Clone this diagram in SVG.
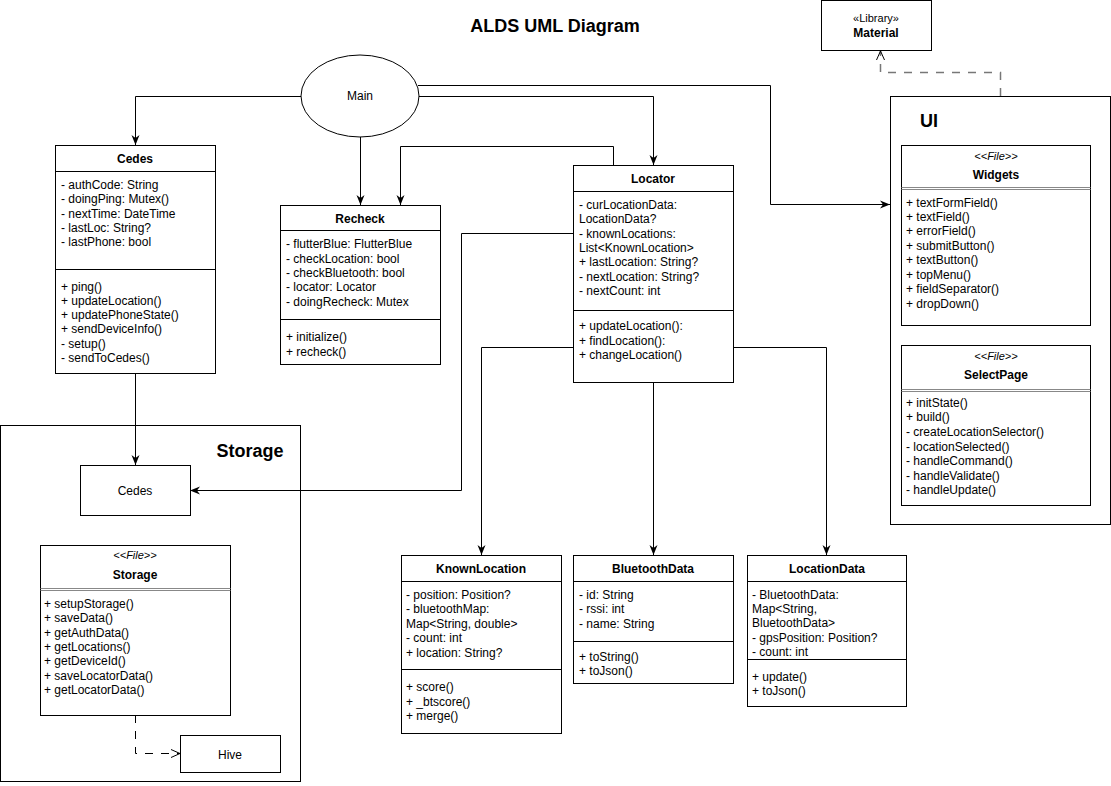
<svg xmlns="http://www.w3.org/2000/svg" width="1111" height="786" viewBox="0 0 1111 786">
<style>
text{font-family:"Liberation Sans",Arial,sans-serif;font-size:12px;fill:#000}
.b{font-weight:bold}
.c{text-anchor:middle}
.i{font-style:italic}
.big{font-size:18px;font-weight:bold}
.box{fill:#fff;stroke:#000;stroke-width:1}
.ln{fill:none;stroke:#000;stroke-width:1}
.dbl{fill:none;stroke:#888;stroke-width:1}
.edge{fill:none;stroke:#000;stroke-width:1}
.dash{fill:none;stroke:#777;stroke-width:1.5;stroke-dasharray:8 8}
</style>
<defs>
<marker id="arr" viewBox="0 0 10 10" refX="10" refY="5" markerWidth="10" markerHeight="10" markerUnits="userSpaceOnUse" orient="auto">
<path d="M0,1 L10,5 L0,9 L3,5 Z" fill="#000"/>
</marker>
<marker id="open" viewBox="0 0 10 10" refX="10" refY="5" markerWidth="10" markerHeight="10" markerUnits="userSpaceOnUse" orient="auto">
<path d="M1,1 L10,5 L1,9" fill="none" stroke="#000" stroke-width="1"/>
</marker>
</defs>
<rect width="1111" height="786" fill="#fff"/>
<text x="555" y="32" class="big c">ALDS UML Diagram</text>

<g id="storage-pkg">
<rect x="0.5" y="425.5" width="300" height="356" class="box"/>
<text x="250" y="457" class="big c">Storage</text>
</g>
<g id="ui-pkg">
<rect x="890.5" y="96.5" width="220" height="428" class="box"/>
<text x="929" y="127" class="big c">UI</text>
</g>

<g id="connectors">
<path d="M301,96.5 H135.5 V145" class="edge" marker-end="url(#arr)"/>
<path d="M360.5,137 V205" class="edge" marker-end="url(#arr)"/>
<path d="M613.5,165 V146.5 H400.5 V205" class="edge" marker-end="url(#arr)"/>
<path d="M419,96.5 H653.5 V165" class="edge" marker-end="url(#arr)"/>
<path d="M418,85.5 H770.5 V204.5 H890" class="edge" marker-end="url(#arr)"/>
<path d="M135.5,373 V465" class="edge" marker-end="url(#arr)"/>
<path d="M573,233.5 H461.5 V490.5 H190" class="edge" marker-end="url(#arr)"/>
<path d="M573,347.5 H481.5 V555" class="edge" marker-end="url(#arr)"/>
<path d="M653.5,382 V555" class="edge" marker-end="url(#arr)"/>
<path d="M734,347.5 H826.5 V555" class="edge" marker-end="url(#arr)"/>
<path d="M1000.5,96 V72.5 H880.5 V51" class="dash" marker-end="url(#open)"/>
<path d="M135.5,715 V753.5 H180" class="dash" style="stroke:#000;stroke-width:1" marker-end="url(#open)"/>
</g>

<g id="main">
<ellipse cx="360" cy="96" rx="59" ry="41" class="box"/>
<text x="360" y="100" class="c">Main</text>
</g>

<g id="material">
<rect x="821.5" y="0.5" width="110" height="50" class="box"/>
<text x="876" y="22" class="c" style="font-size:11px">«Library»</text>
<text x="876" y="37" class="c b">Material</text>
</g>

<g id="cedes">
<rect x="55.5" y="145.5" width="160" height="228" class="box"/>
<line x1="55.5" y1="171.5" x2="215.5" y2="171.5" class="ln"/>
<line x1="55.5" y1="269.5" x2="215.5" y2="269.5" class="ln"/>
<text x="135" y="163" class="c b">Cedes</text>
<text x="61" y="189">- authCode: String</text>
<text x="61" y="203">- doingPing: Mutex()</text>
<text x="61" y="218">- nextTime: DateTime</text>
<text x="61" y="232">- lastLoc: String?</text>
<text x="61" y="246">- lastPhone: bool</text>
<text x="61" y="291">+ ping()</text>
<text x="61" y="305">+ updateLocation()</text>
<text x="61" y="319">+ updatePhoneState()</text>
<text x="61" y="333">+ sendDeviceInfo()</text>
<text x="61" y="348">- setup()</text>
<text x="61" y="362">- sendToCedes()</text>
</g>

<g id="recheck">
<rect x="280.5" y="205.5" width="160" height="159" class="box"/>
<line x1="280.5" y1="230.5" x2="440.5" y2="230.5" class="ln"/>
<line x1="280.5" y1="319.5" x2="440.5" y2="319.5" class="ln"/>
<text x="360" y="223" class="c b">Recheck</text>
<text x="286" y="248">- flutterBlue: FlutterBlue</text>
<text x="286" y="263">- checkLocation: bool</text>
<text x="286" y="277">- checkBluetooth: bool</text>
<text x="286" y="291">- locator: Locator</text>
<text x="286" y="306">- doingRecheck: Mutex</text>
<text x="286" y="341">+ initialize()</text>
<text x="286" y="356">+ recheck()</text>
</g>

<g id="locator">
<rect x="573.5" y="165.5" width="160" height="217" class="box"/>
<line x1="573.5" y1="191.5" x2="733.5" y2="191.5" class="ln"/>
<line x1="573.5" y1="310.5" x2="733.5" y2="310.5" class="ln"/>
<text x="653" y="183" class="c b">Locator</text>
<text x="579" y="209">- curLocationData:</text>
<text x="579" y="223">LocationData?</text>
<text x="579" y="238">- knownLocations:</text>
<text x="579" y="252">List&lt;KnownLocation&gt;</text>
<text x="579" y="266">+ lastLocation: String?</text>
<text x="579" y="281">- nextLocation: String?</text>
<text x="579" y="295">- nextCount: int</text>
<text x="579" y="330">+ updateLocation():</text>
<text x="579" y="345">+ findLocation():</text>
<text x="579" y="359">+ changeLocation()</text>
</g>

<g id="widgets">
<rect x="901.5" y="145.5" width="189" height="180" class="box"/>
<line x1="901.5" y1="187.5" x2="1090.5" y2="187.5" class="dbl"/>
<line x1="901.5" y1="189.5" x2="1090.5" y2="189.5" class="dbl"/>
<text x="996" y="160" class="c i" style="font-size:11px">&lt;&lt;File&gt;&gt;</text>
<text x="996" y="179" class="c b">Widgets</text>
<text x="906" y="207">+ textFormField()</text>
<text x="906" y="221">+ textField()</text>
<text x="906" y="235">+ errorField()</text>
<text x="906" y="250">+ submitButton()</text>
<text x="906" y="264">+ textButton()</text>
<text x="906" y="279">+ topMenu()</text>
<text x="906" y="293">+ fieldSeparator()</text>
<text x="906" y="308">+ dropDown()</text>
</g>

<g id="selectpage">
<rect x="901.5" y="345.5" width="189" height="160" class="box"/>
<line x1="901.5" y1="389.5" x2="1090.5" y2="389.5" class="dbl"/>
<line x1="901.5" y1="391.5" x2="1090.5" y2="391.5" class="dbl"/>
<text x="996" y="360" class="c i" style="font-size:11px">&lt;&lt;File&gt;&gt;</text>
<text x="996" y="379" class="c b">SelectPage</text>
<text x="906" y="407">+ initState()</text>
<text x="906" y="421">+ build()</text>
<text x="906" y="436">- createLocationSelector()</text>
<text x="906" y="451">- locationSelected()</text>
<text x="906" y="465">- handleCommand()</text>
<text x="906" y="480">- handleValidate()</text>
<text x="906" y="494">- handleUpdate()</text>
</g>

<g id="storage-cedes">
<rect x="80.5" y="465.5" width="110" height="50" class="box"/>
<text x="135" y="495" class="c">Cedes</text>
</g>

<g id="storage-file">
<rect x="40.5" y="545.5" width="190" height="170" class="box"/>
<line x1="40.5" y1="588.5" x2="230.5" y2="588.5" class="dbl"/>
<line x1="40.5" y1="590.5" x2="230.5" y2="590.5" class="dbl"/>
<text x="135" y="559" class="c i" style="font-size:11px">&lt;&lt;File&gt;&gt;</text>
<text x="135" y="579" class="c b">Storage</text>
<text x="44" y="608">+ setupStorage()</text>
<text x="44" y="622">+ saveData()</text>
<text x="44" y="637">+ getAuthData()</text>
<text x="44" y="651">+ getLocations()</text>
<text x="44" y="665">+ getDeviceId()</text>
<text x="44" y="680">+ saveLocatorData()</text>
<text x="44" y="694">+ getLocatorData()</text>
</g>

<g id="hive">
<rect x="180.5" y="735.5" width="100" height="37" class="box"/>
<text x="230" y="759" class="c">Hive</text>
</g>

<g id="knownlocation">
<rect x="401.5" y="555.5" width="160" height="178" class="box"/>
<line x1="401.5" y1="581.5" x2="561.5" y2="581.5" class="ln"/>
<line x1="401.5" y1="669.5" x2="561.5" y2="669.5" class="ln"/>
<text x="481" y="573" class="c b">KnownLocation</text>
<text x="406" y="599">- position: Position?</text>
<text x="406" y="613">- bluetoothMap:</text>
<text x="406" y="628">Map&lt;String, double&gt;</text>
<text x="406" y="642">- count: int</text>
<text x="406" y="657">+ location: String?</text>
<text x="406" y="691">+ score()</text>
<text x="406" y="706">+ _btscore()</text>
<text x="406" y="720">+ merge()</text>
</g>

<g id="bluetoothdata">
<rect x="573.5" y="555.5" width="160" height="128" class="box"/>
<line x1="573.5" y1="581.5" x2="733.5" y2="581.5" class="ln"/>
<line x1="573.5" y1="641.5" x2="733.5" y2="641.5" class="ln"/>
<text x="653" y="573" class="c b">BluetoothData</text>
<text x="579" y="599">- id: String</text>
<text x="579" y="613">- rssi: int</text>
<text x="579" y="628">- name: String</text>
<text x="579" y="661">+ toString()</text>
<text x="579" y="675">+ toJson()</text>
</g>

<g id="locationdata">
<rect x="747.5" y="555.5" width="159" height="151" class="box"/>
<line x1="747.5" y1="581.5" x2="906.5" y2="581.5" class="ln"/>
<line x1="747.5" y1="659.5" x2="906.5" y2="659.5" class="ln"/>
<text x="827" y="573" class="c b">LocationData</text>
<text x="752" y="599">- BluetoothData:</text>
<text x="752" y="613">Map&lt;String,</text>
<text x="752" y="627">BluetoothData&gt;</text>
<text x="752" y="642">- gpsPosition: Position?</text>
<text x="752" y="656">- count: int</text>
<text x="752" y="681">+ update()</text>
<text x="752" y="695">+ toJson()</text>
</g>
</svg>
